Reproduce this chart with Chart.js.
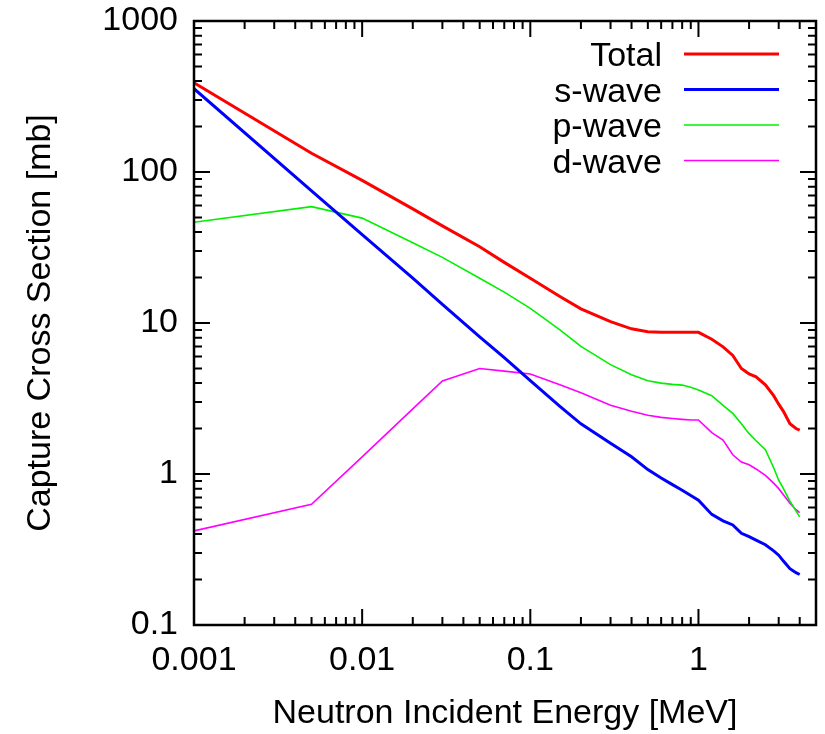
<!DOCTYPE html>
<html>
<head>
<meta charset="utf-8">
<script src="https://cdn.jsdelivr.net/npm/chart.js@4.4.1/dist/chart.umd.min.js"></script>
<style>
  html, body { margin: 0; padding: 0; background: #fff; }
  #wrap { width: 825px; height: 734px; }
</style>
</head>
<body>
<div id="wrap"><canvas id="xsChart" width="825" height="734"></canvas></div>
<script>
// neutron energy grid [MeV]
const energies = [0.001, 0.005, 0.01, 0.02, 0.03, 0.05, 0.07, 0.1, 0.15, 0.2, 0.3, 0.4, 0.5, 0.6, 0.7, 0.8, 0.9, 1.0,
    1.2, 1.4, 1.6, 1.8, 2.0, 2.2, 2.5, 2.8, 3.0, 3.2, 3.5, 3.8, 4.0];

// capture cross sections [mb]
const totalXs = [390, 133, 88, 57, 44, 32, 25.2, 19.8, 15.0, 12.4, 10.2, 9.15, 8.75, 8.67, 8.67, 8.67, 8.67, 8.67,
    7.8, 6.95, 6.1, 5.0, 4.6, 4.4, 3.9, 3.3, 2.9, 2.6, 2.15, 2.0, 1.95];
const sWave = [356, 75, 38.5, 19.8, 13.3, 8.1, 5.9, 4.15, 2.8, 2.15, 1.6, 1.3, 1.07, 0.94, 0.85, 0.78, 0.72, 0.67,
    0.54, 0.49, 0.46, 0.405, 0.385, 0.365, 0.34, 0.31, 0.29, 0.265, 0.236, 0.222, 0.216];
const pWave = [46.5, 59, 49.5, 34, 27.2, 19.8, 16, 12.5, 9.0, 7.0, 5.3, 4.55, 4.15, 4.0, 3.92, 3.88, 3.75, 3.6,
    3.3, 2.85, 2.52, 2.15, 1.85, 1.66, 1.45, 1.1, 0.91, 0.8, 0.66, 0.57, 0.52];
const dWave = [0.42, 0.63, 1.3, 2.7, 4.13, 5.0, 4.8, 4.6, 3.9, 3.45, 2.85, 2.6, 2.45, 2.37, 2.33, 2.3, 2.28, 2.28,
    1.88, 1.68, 1.34, 1.2, 1.15, 1.08, 0.98, 0.87, 0.8, 0.73, 0.64, 0.58, 0.555];

const seriesNames = ['Total', 's-wave', 'p-wave', 'd-wave'];
const xTicks = [0.001, 0.01, 0.1, 1];
const xTickLabels = ['0.001', '0.01', '0.1', '1'];
const yTicks = [0.1, 1, 10, 100, 1000];
const yTickLabels = ['0.1', '1', '10', '100', '1000'];

const FONT = 'Liberation Sans, Arial, Helvetica, sans-serif';
const FONT_SIZE = 34;

function toPoints(values) {
    return energies.map((e, i) => ({ x: e, y: values[i] }));
}

// minor tick values between min and max of a log axis
function minorValues(min, max) {
    const out = [];
    for (let p = Math.floor(Math.log10(min)); p <= Math.ceil(Math.log10(max)); p++) {
        for (let k = 2; k <= 9; k++) {
            const v = k * Math.pow(10, p);
            if (v > min * 1.0001 && v < max * 0.9999) out.push(v);
        }
    }
    return out;
}

// frame with inward ticks on all four sides, plus gnuplot style key
const framePlugin = {
    id: 'frame',
    afterDraw(chart) {
        const { ctx, chartArea: a, scales: { x, y } } = chart;
        ctx.save();
        ctx.strokeStyle = '#000';
        ctx.lineWidth = 2;
        ctx.beginPath();
        xTicks.forEach(v => {
            const px = x.getPixelForValue(v);
            ctx.moveTo(px, a.bottom); ctx.lineTo(px, a.bottom - 16);
            ctx.moveTo(px, a.top); ctx.lineTo(px, a.top + 16);
        });
        minorValues(x.min, x.max).forEach(v => {
            const px = x.getPixelForValue(v);
            ctx.moveTo(px, a.bottom); ctx.lineTo(px, a.bottom - 8);
            ctx.moveTo(px, a.top); ctx.lineTo(px, a.top + 8);
        });
        yTicks.forEach(v => {
            const py = y.getPixelForValue(v);
            ctx.moveTo(a.left, py); ctx.lineTo(a.left + 16, py);
            ctx.moveTo(a.right, py); ctx.lineTo(a.right - 16, py);
        });
        minorValues(y.min, y.max).forEach(v => {
            const py = y.getPixelForValue(v);
            ctx.moveTo(a.left, py); ctx.lineTo(a.left + 8, py);
            ctx.moveTo(a.right, py); ctx.lineTo(a.right - 8, py);
        });
        ctx.stroke();

        ctx.lineWidth = 2.5;
        ctx.strokeRect(a.left, a.top, a.right - a.left, a.bottom - a.top);

        // key
        ctx.font = FONT_SIZE + 'px ' + FONT;
        ctx.textAlign = 'right';
        ctx.textBaseline = 'alphabetic';
        ctx.fillStyle = '#000';
        chart.data.datasets.forEach((ds, i) => {
            const ly = 54 + i * 35.5;
            ctx.fillText(ds.label, 662, ly + 12);
            ctx.strokeStyle = ds.borderColor;
            ctx.lineWidth = ds.borderWidth;
            ctx.beginPath();
            ctx.moveTo(684, ly);
            ctx.lineTo(779, ly);
            ctx.stroke();
        });
        ctx.restore();
    }
};

new Chart(document.getElementById('xsChart'), {
    type: 'line',
    data: {
        datasets: [
            { label: seriesNames[0], data: toPoints(totalXs), borderColor: '#ff0000', borderWidth: 3 },
            { label: seriesNames[1], data: toPoints(sWave), borderColor: '#0000ff', borderWidth: 3 },
            { label: seriesNames[2], data: toPoints(pWave), borderColor: '#00f000', borderWidth: 1.6 },
            { label: seriesNames[3], data: toPoints(dWave), borderColor: '#ff00ff', borderWidth: 1.6 }
        ]
    },
    options: {
        responsive: false,
        animation: false,
        devicePixelRatio: 1,
        layout: { padding: { top: 21, right: 9, left: 0, bottom: 0 } },
        elements: { point: { radius: 0 }, line: { tension: 0 } },
        plugins: { legend: { display: false }, tooltip: { enabled: false } },
        scales: {
            x: {
                type: 'logarithmic',
                min: 0.001,
                max: 5,
                grid: { display: false, drawTicks: false },
                border: { display: false },
                afterBuildTicks: scale => { scale.ticks = xTicks.map(v => ({ value: v })); },
                afterFit: scale => {
                    scale.height = 109;
                    scale.paddingLeft = 0;
                    scale.paddingRight = 0;
                },
                ticks: {
                    autoSkip: false,
                    maxRotation: 0,
                    padding: 15,
                    color: '#000',
                    font: { family: FONT, size: FONT_SIZE },
                    callback: (v, i) => xTickLabels[i]
                },
                title: {
                    display: true,
                    text: 'Neutron Incident Energy [MeV]',
                    color: '#000',
                    font: { family: FONT, size: FONT_SIZE },
                    padding: { top: 0, bottom: 0 }
                }
            },
            y: {
                type: 'logarithmic',
                min: 0.1,
                max: 1000,
                grid: { display: false, drawTicks: false },
                border: { display: false },
                afterBuildTicks: scale => { scale.ticks = yTicks.map(v => ({ value: v })); },
                afterFit: scale => {
                    scale.width = 194;
                    scale.paddingTop = 0;
                    scale.paddingBottom = 0;
                },
                ticks: {
                    autoSkip: false,
                    padding: 16,
                    color: '#000',
                    font: { family: FONT, size: FONT_SIZE },
                    callback: (v, i) => yTickLabels[i]
                },
                title: {
                    display: true,
                    text: 'Capture Cross Section [mb]',
                    color: '#000',
                    font: { family: FONT, size: FONT_SIZE },
                    padding: { top: 20, bottom: 0 }
                }
            }
        }
    },
    plugins: [framePlugin]
});
</script>
</body>
</html>
